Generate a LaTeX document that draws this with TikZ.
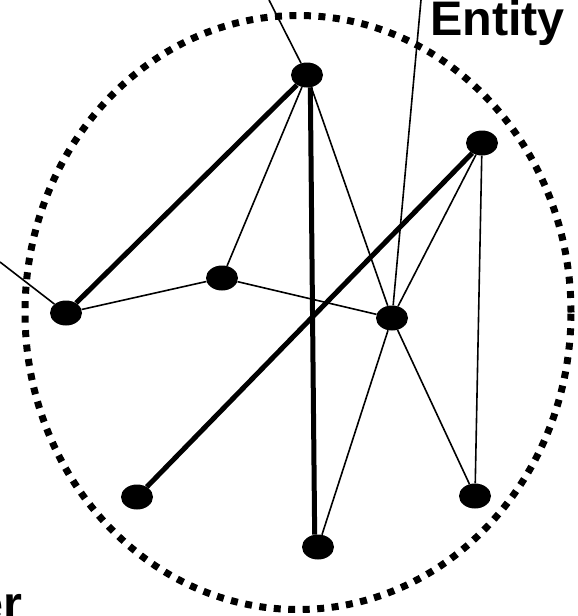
\documentclass[tikz,border=0pt]{standalone}
\usepackage{fontspec}
\setmainfont{Liberation Sans}
\usepackage{tikz}
\usetikzlibrary{shapes.geometric}
\tikzset{
  vertex/.style={ellipse,fill=black,minimum width=32pt,minimum height=25pt,inner sep=0pt},
  rim/.style={ellipse,draw=black,line width=7pt,dash pattern=on 7pt off 7.5pt,minimum width=546pt,minimum height=594pt,inner sep=0pt},
  link/.style={line width=1.6pt,draw=black},
  bond/.style={line width=5pt,draw=black},
  tag/.style={font=\fontsize{48.5}{52}\selectfont\bfseries,inner sep=0pt}
}
\begin{document}
\begin{tikzpicture}[x=1pt,y=-1pt]
  \useasboundingbox (0,0) rectangle (578,616);
  \clip (0,0) rectangle (578,616);
  \node[rim] (cluster) at (298,312.5) {};
  \node[vertex] (top) at (307,75) {};
  \node[vertex] (upright) at (482,143) {};
  \node[vertex] (mid) at (222,278) {};
  \node[vertex] (left) at (66,313) {};
  \node[vertex] (hub) at (392,318) {};
  \node[vertex] (lowleft) at (137,497) {};
  \node[vertex] (lowright) at (475,496) {};
  \node[vertex] (bottom) at (318,547) {};
  \node[tag,anchor=base west] (entity) at (430,35) {Entity c};
  \node[tag,anchor=base east] (layer) at (23,620) {er};
  \coordinate (topend) at (269,0);
  \coordinate (hubend) at (421,0);
  \coordinate (leftend) at (0,262);
  \draw[bond] (top) -- (left);
  \draw[bond] (top.-75) -- (bottom.105);
  \draw[bond] (upright) -- (lowleft);
  \draw[link] (top) -- (mid);
  \draw[link] (top) -- (hub);
  \draw[link] (mid) -- (left);
  \draw[link] (mid) -- (hub);
  \draw[link] (upright) -- (hub);
  \draw[link] (upright) -- (lowright);
  \draw[link] (hub) -- (bottom);
  \draw[link] (hub) -- (lowright);
  \draw[link] (top) -- (topend);
  \draw[link] (hub) -- (hubend);
  \draw[link] (left) -- (leftend);
\end{tikzpicture}
\end{document}
